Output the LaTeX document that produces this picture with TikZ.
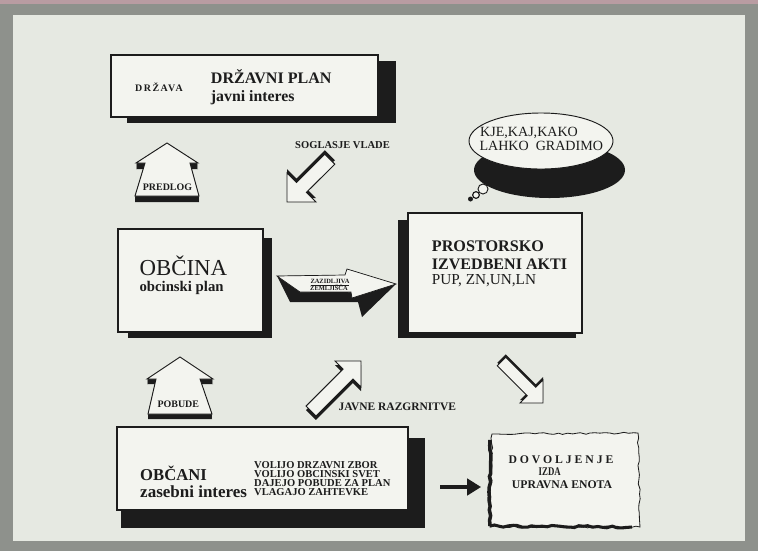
\documentclass[tikz,border=0pt]{standalone}
\usepackage{fontspec}
\setmainfont{Liberation Serif}
\usetikzlibrary{arrows.meta,decorations.pathmorphing,fit,shapes.geometric}
\definecolor{bgc}{HTML}{E6E9E2}
\definecolor{framec}{HTML}{8E918C}
\definecolor{pinkc}{HTML}{B99CA2}
\definecolor{paper}{HTML}{F3F4EF}
\definecolor{ink}{HTML}{1C1C1C}
\newcommand{\fs}[2]{\fontsize{#1}{#2}\selectfont}
\tikzset{
  lbl/.style={inner sep=0, text=ink, anchor=base west},
  clbl/.style={inner sep=0, text=ink, anchor=base},
  boxnode/.style={draw=ink, fill=paper, line width=1.4pt, inner sep=0},
  arrowbody/.style={draw=ink, fill=paper, line width=0.8pt, line join=miter},
  rough/.style={decorate, decoration={random steps, segment length=4pt, amplitude=0.9pt}},
}
\begin{document}
\begin{tikzpicture}[x=0.03cm,y=-0.03cm]
\useasboundingbox (0,0) rectangle (758,551);
\fill[framec] (0,0) rectangle (758,551);
\fill[pinkc] (0,0) rectangle (758,4);
\fill[bgc] (13,15) rectangle (745,541);

% ---- DRZAVA box
\fill[ink] (127,61) rectangle (396,123);
\node[boxnode, fit={(111,55)(378,117)}] (drzbox) {};
\node[lbl, font=\bfseries\fs{8.5}{10}\addfontfeature{LetterSpace=15}] (drzava) at (135,91) {DRŽAVA};
\node[lbl, font=\bfseries\fs{13.7}{16}] (dplan) at (210.7,83.5) {DRŽAVNI PLAN};
\node[lbl, font=\bfseries\fs{13.5}{16}] (javni) at (210.7,101.5) {javni interes};

% ---- thought bubble
\fill[ink] (549.5,170) ellipse [x radius=2.265cm, y radius=0.84cm];
\node[ellipse, draw=ink, fill=paper, line width=0.8pt, minimum width=4.32cm, minimum height=1.68cm, inner sep=0] (bubble) at (541,141) {};
\node[lbl, font=\fs{12}{14}] (kje) at (480,136.7) {KJE,KAJ,KAKO};
\node[lbl, font=\fs{12}{14}] (lahko) at (479.3,150) {LAHKO\ \ GRADIMO};
\node[circle, draw=ink, fill=paper, line width=0.8pt, minimum size=0.3cm, inner sep=0] (b1) at (483,189) {};
\node[circle, draw=ink, fill=paper, line width=1pt, minimum size=0.2cm, inner sep=0] (b2) at (476,195) {};
\node[circle, fill=ink, minimum size=0.15cm, inner sep=0] (b3) at (470.5,199) {};

% ---- PREDLOG arrow (up)
\foreach \s in {0,1,...,6} {
  \fill[ink, shift={(0,\s)}] (167,143) -- (198,163) -- (190,163) -- (199,196) -- (135,196) -- (145,163) -- (136,163) -- cycle;
}
\path[arrowbody] (167,143) -- (198,163) -- (190,163) -- (199,196) -- (135,196) -- (145,163) -- (136,163) -- cycle;
\node[clbl, font=\bfseries\fs{8.5}{10}] (predlog) at (167.5,190) {PREDLOG};

% ---- SOGLASJE VLADE arrow (down-left)
\fill[ink, shift={(0,-4)}] (287,202) -- (287,173) -- (296.5,182.5) -- (324.8,154.2) -- (334.8,164.2) -- (306.4,192.4) -- (316,202) -- cycle;
\path[arrowbody] (287,202) -- (287,173) -- (296.5,182.5) -- (324.8,154.2) -- (334.8,164.2) -- (306.4,192.4) -- (316,202) -- cycle;
\node[lbl, font=\bfseries\fs{9}{10}] (soglasje) at (295,148.5) {SOGLASJE VLADE};

% ---- OBCINA box
\fill[ink] (128,238) rectangle (272,338);
\node[boxnode, fit={(118,229)(263,332)}] (obcbox) {};
\node[lbl, align=left, font=\fs{12.6}{13.6}] (obcina) at (139.3,291.5) {{\fs{19.5}{13.6}OBČINA}\\{\bfseries obcinski plan}};

% ---- ZAZIDLJIVA ZEMLJISCA 3D arrow
\fill[ink] (277,276) -- (290,302) -- (358,302) -- (362,317) -- (396,284) -- (347,269) -- (345,275) -- cycle;
\filldraw[fill=paper, draw=ink, line width=0.6pt] (277,276) -- (345,275) -- (347,269) -- (396,284) -- (352,298) -- (351,292) -- (300,292) -- cycle;
\node[clbl, font=\bfseries\fs{5.5}{6}] (zaz1) at (330,283) {\underline{ZAZIDLJIVA}};
\node[clbl, font=\bfseries\fs{5.5}{6}] (zaz2) at (329,290.7) {\underline{ZEMLJIŠČA}};

% ---- PROSTORSKO box
\fill[ink] (398,220) rectangle (576,338);
\node[boxnode, fit={(408,213)(582,333)}] (probox) {};
\node[lbl, font=\bfseries\fs{13.8}{16}] (pros1) at (431.7,251.7) {PROSTORSKO};
\node[lbl, font=\bfseries\fs{13.7}{16}] (pros2) at (431.7,269.3) {IZVEDBENI AKTI};
\node[lbl, font=\fs{13}{16}] (pros3) at (431.7,284) {PUP, ZN,UN,LN};

% ---- POBUDE arrow (up)
\foreach \s in {0,1,...,5} {
  \fill[ink, shift={(0,\s)}] (180,357) -- (213,379) -- (200,379) -- (212,414) -- (148,414) -- (156,379) -- (147,379) -- cycle;
}
\path[arrowbody] (180,357) -- (213,379) -- (200,379) -- (212,414) -- (148,414) -- (156,379) -- (147,379) -- cycle;
\node[clbl, font=\bfseries\fs{8.5}{10}] (pobude) at (178.3,407.3) {POBUDE};

% ---- JAVNE RAZGRNITVE arrow (up-right)
\fill[ink, shift={(0,4)}] (361,361) -- (335,361) -- (343.05,369.05) -- (306.05,406.05) -- (315.95,415.95) -- (352.95,378.95) -- (361,387) -- cycle;
\path[arrowbody] (361,361) -- (335,361) -- (343.05,369.05) -- (306.05,406.05) -- (315.95,415.95) -- (352.95,378.95) -- (361,387) -- cycle;
\node[lbl, font=\bfseries\fs{9.8}{11}] (javne) at (338.3,410) {JAVNE RAZGRNITVE};

% ---- down-right arrow
\fill[ink, shift={(0,-3)}] (543,403) -- (520,403) -- (527.26,395.74) -- (497.26,365.74) -- (505.74,357.26) -- (535.74,387.26) -- (543,380) -- cycle;
\path[arrowbody] (543,403) -- (520,403) -- (527.26,395.74) -- (497.26,365.74) -- (505.74,357.26) -- (535.74,387.26) -- (543,380) -- cycle;

% ---- OBCANI box
\fill[ink] (121,438) rectangle (425,528);
\node[boxnode, fit={(117,427)(408,510)}] (obcanibox) {};
\node[lbl, font=\bfseries\fs{14.2}{16}] (obcani) at (140,480) {OBČANI};
\node[lbl, font=\bfseries\fs{14.5}{16}] (zasebni) at (140,497.3) {zasebni interes};
\node[lbl, align=left, font=\bfseries\fs{9}{7.6}] (list) at (254,495.7) {VOLIJO DRZAVNI ZBOR\\VOLIJO OBCINSKI SVET\\DAJEJO POBUDE ZA PLAN\\VLAGAJO ZAHTEVKE};

% ---- DOVOLJENJE scroll
\pgfmathsetseed{11}
\node[fit={(488,433)(640,527)}, inner sep=0] (dov) {};
\filldraw[fill=paper, draw=ink, line width=0.7pt, rough] (492,434) -- (638,433) -- (640,527) -- (490,527) -- cycle;
\draw[ink, line width=3pt, rough] (490,440) -- (490,526);
\draw[ink, line width=2.6pt, rough] (490,526) -- (632,527);
\node[lbl, font=\bfseries\fs{10}{12}\addfontfeature{LetterSpace=25}] (dov1) at (508.3,463.3) {DOVOLJENJE};
\node[clbl, font=\bfseries\fs{10}{12}\addfontfeature{FakeStretch=0.75}] (dov2) at (549.7,475) {IZDA};
\node[lbl, font=\bfseries\fs{10}{12}] (dov3) at (511.7,488.3) {UPRAVNA ENOTA};

% ---- black arrow to DOVOLJENJE
\coordinate (arrS) at (440,487);
\draw[ink, line width=3.4pt, -{Triangle[length=12pt, width=14pt]}, shorten >=0.2cm] (arrS) -- (arrS -| dov.west);
\end{tikzpicture}
\end{document}
